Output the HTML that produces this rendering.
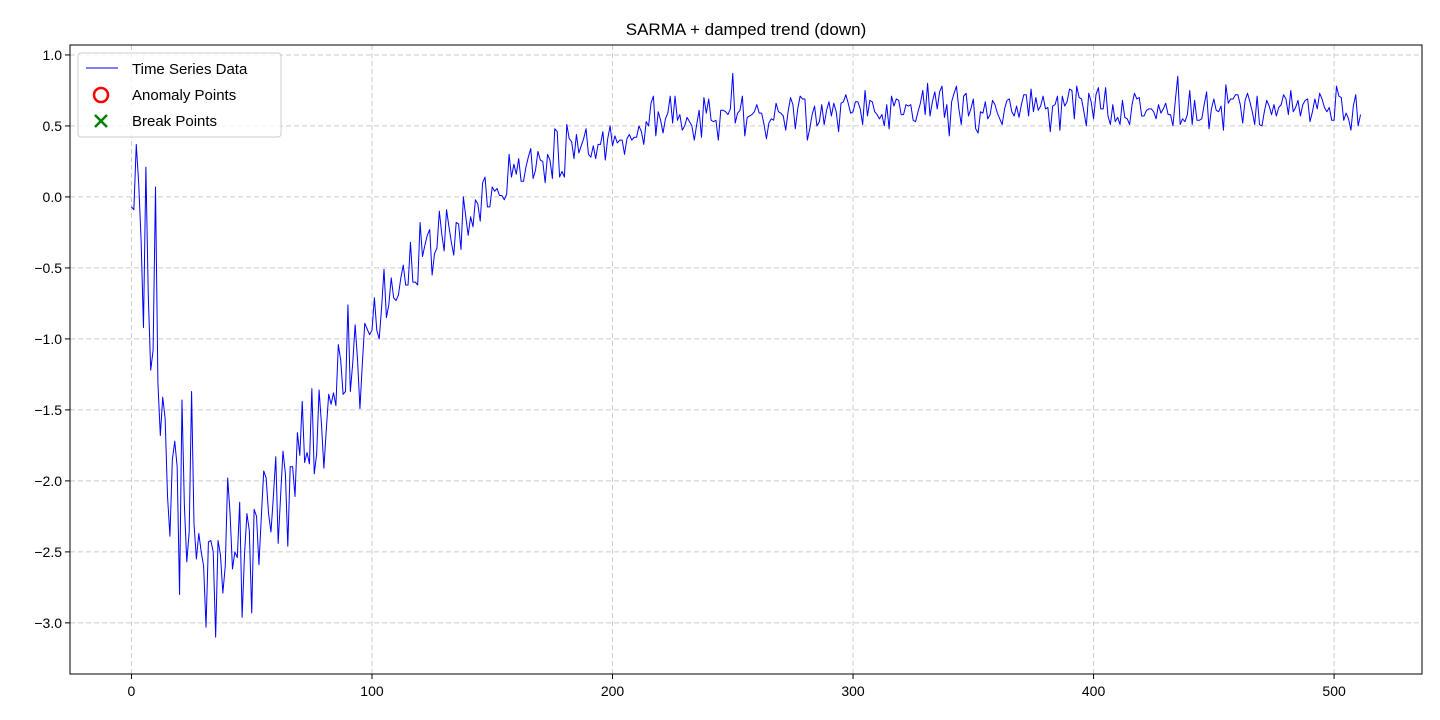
<!DOCTYPE html>
<html><head><meta charset="utf-8"><style>
html,body{margin:0;padding:0;background:#fff;}
svg{display:block;font-family:"Liberation Sans","DejaVu Sans",sans-serif;}
</style></head><body>
<svg id="chart" width="1440" height="720">
<rect x="0" y="0" width="1440" height="720" fill="#fff"/>
<text x="746" y="35" text-anchor="middle" font-size="17">SARMA + damped trend (down)</text>
<g id="grid"></g>
<g id="axes"></g>
<path id="series" fill="none" stroke="#0000ff" stroke-width="1" stroke-linejoin="round"/>
<rect x="70" y="45" width="1352" height="629" fill="none" stroke="#000" stroke-width="1"/>
<g>
<rect x="78" y="53" width="203" height="84" rx="3" fill="#fff" fill-opacity="0.8" stroke="#ccc"/>
<line x1="86" y1="68" x2="118" y2="68" stroke="#0000ff" stroke-width="1"/>
<text x="132" y="74" font-size="15">Time Series Data</text>
<circle cx="101" cy="95" r="7" fill="none" stroke="#ff0000" stroke-width="2.5"/>
<text x="132" y="100" font-size="15">Anomaly Points</text>
<path d="M95 115 L107 127 M107 115 L95 127" stroke="#008000" stroke-width="2.5"/>
<text x="132" y="126" font-size="15">Break Points</text>
</g>
</svg>
<script>
const values = [-0.07,-0.09,0.37,0.1,-0.3,-0.92,0.21,-0.7,-1.22,-1.08,0.07,-1.31,-1.68,-1.41,-1.56,-2.11,-2.39,-1.85,-1.72,-1.9,
-2.8,-1.43,-2.17,-2.57,-2.36,-1.37,-2.3,-2.55,-2.37,-2.5,-2.6,-3.03,-2.43,-2.42,-2.5,-3.1,-2.42,-2.52,-2.79,-2.6,
-1.98,-2.23,-2.62,-2.5,-2.54,-2.15,-2.96,-2.52,-2.23,-2.35,-2.93,-2.2,-2.25,-2.59,-2.25,-1.93,-1.98,-2.23,-2.36,-2.11,
-1.83,-2.44,-2.11,-1.79,-1.95,-2.46,-1.9,-1.9,-2.11,-1.66,-1.82,-1.44,-1.87,-1.8,-1.88,-1.35,-1.95,-1.81,-1.36,-1.6,
-1.91,-1.64,-1.39,-1.46,-1.38,-1.47,-1.04,-1.15,-1.39,-1.37,-0.76,-1.37,-1.17,-0.9,-1.15,-1.49,-1.17,-0.89,-0.93,-0.97,
-0.94,-0.71,-0.94,-1.0,-0.78,-0.51,-0.85,-0.76,-0.57,-0.71,-0.73,-0.69,-0.57,-0.48,-0.62,-0.62,-0.32,-0.6,-0.6,-0.62,
-0.18,-0.42,-0.34,-0.27,-0.23,-0.55,-0.4,-0.36,-0.1,-0.26,-0.38,-0.09,-0.21,-0.32,-0.41,-0.18,-0.19,-0.37,0.0,-0.14,
-0.27,-0.14,-0.21,-0.02,-0.05,-0.17,0.1,0.14,-0.07,-0.07,0.07,0.04,0.06,0.01,0.01,-0.02,0.02,0.3,0.14,0.23,
0.16,0.27,0.11,0.11,0.21,0.28,0.34,0.13,0.19,0.32,0.26,0.25,0.1,0.3,0.26,0.13,0.48,0.46,0.14,0.18,
0.14,0.51,0.41,0.39,0.27,0.44,0.31,0.36,0.41,0.48,0.3,0.28,0.36,0.27,0.37,0.37,0.46,0.26,0.41,0.5,
0.36,0.43,0.38,0.4,0.4,0.3,0.41,0.44,0.4,0.42,0.42,0.5,0.46,0.37,0.53,0.5,0.66,0.71,0.43,0.6,
0.54,0.45,0.55,0.59,0.71,0.52,0.71,0.54,0.58,0.47,0.5,0.56,0.53,0.5,0.4,0.51,0.61,0.42,0.7,0.59,
0.69,0.54,0.53,0.54,0.4,0.61,0.61,0.6,0.58,0.62,0.87,0.52,0.59,0.61,0.71,0.43,0.56,0.57,0.58,0.6,
0.65,0.59,0.59,0.51,0.41,0.52,0.55,0.54,0.66,0.6,0.59,0.57,0.47,0.6,0.7,0.65,0.48,0.62,0.71,0.69,
0.69,0.4,0.48,0.58,0.64,0.5,0.53,0.65,0.51,0.61,0.67,0.57,0.66,0.6,0.46,0.66,0.67,0.72,0.66,0.59,
0.6,0.67,0.67,0.62,0.51,0.75,0.57,0.68,0.67,0.6,0.58,0.55,0.58,0.5,0.65,0.48,0.71,0.64,0.69,0.68,
0.58,0.58,0.65,0.64,0.65,0.54,0.53,0.6,0.66,0.75,0.58,0.8,0.57,0.67,0.74,0.62,0.74,0.78,0.56,0.65,
0.43,0.67,0.73,0.78,0.62,0.51,0.71,0.73,0.57,0.62,0.69,0.48,0.45,0.6,0.59,0.67,0.55,0.58,0.68,0.65,
0.59,0.55,0.51,0.62,0.68,0.69,0.6,0.57,0.64,0.56,0.65,0.72,0.72,0.57,0.76,0.6,0.7,0.61,0.64,0.71,
0.62,0.63,0.46,0.64,0.65,0.71,0.47,0.71,0.64,0.67,0.76,0.75,0.55,0.78,0.7,0.69,0.6,0.5,0.73,0.67,
0.55,0.72,0.77,0.62,0.62,0.77,0.57,0.51,0.65,0.53,0.56,0.51,0.68,0.56,0.55,0.51,0.65,0.73,0.69,0.7,
0.57,0.57,0.61,0.62,0.62,0.6,0.55,0.65,0.59,0.62,0.66,0.58,0.58,0.5,0.68,0.85,0.51,0.55,0.53,0.58,
0.75,0.51,0.68,0.54,0.54,0.55,0.65,0.74,0.48,0.62,0.69,0.61,0.6,0.64,0.47,0.79,0.66,0.69,0.69,0.72,
0.72,0.65,0.52,0.68,0.73,0.67,0.6,0.51,0.71,0.51,0.5,0.6,0.68,0.64,0.58,0.65,0.57,0.63,0.65,0.72,
0.69,0.58,0.75,0.6,0.63,0.68,0.57,0.65,0.68,0.69,0.53,0.6,0.69,0.62,0.73,0.69,0.63,0.6,0.63,0.54,
0.54,0.78,0.71,0.7,0.54,0.59,0.55,0.47,0.64,0.72,0.5,0.58];
const yTicks = [1.0,0.5,0.0,-0.5,-1.0,-1.5,-2.0,-2.5,-3.0];
const xTicks = [0,100,200,300,400,500];

const L=70,R=1422,T=45,B=674;
const xMin=-25.55,xMax=536.55,yMin=-3.36,yMax=1.07;
function xs(v){return L+(v-xMin)/(xMax-xMin)*(R-L);}
function ys(v){return B-(v-yMin)/(yMax-yMin)*(B-T);}
const NS='http://www.w3.org/2000/svg';
const grid=document.getElementById('grid'), axes=document.getElementById('axes');
function mk(tag,attrs,parent){const e=document.createElementNS(NS,tag);for(const k in attrs)e.setAttribute(k,attrs[k]);parent.appendChild(e);return e;}
function fmt(v){const s=Math.abs(v).toFixed(1);return v<0?'\u2212'+s:s;}
yTicks.forEach(v=>{
  const y=ys(v);
  const g=mk('line',{x1:L,x2:R,y1:y,y2:y,stroke:'#ccc','stroke-dasharray':'5,3','stroke-width':1},grid);
  
  
  const t=mk('line',{x1:L-5,x2:L,y1:y,y2:y,stroke:'#000'},axes);
  
  
  const l=mk('text',{x:L-8,y:y+5,'text-anchor':'end','font-size':14},axes);
  l.textContent=fmt(v);
  
  
});
xTicks.forEach(v=>{
  const x=xs(v);
  const g=mk('line',{x1:x,x2:x,y1:T,y2:B,stroke:'#ccc','stroke-dasharray':'5,3','stroke-width':1},grid);
  
  
  const t=mk('line',{x1:x,x2:x,y1:B,y2:B+5,stroke:'#000'},axes);
  
  
  const l=mk('text',{x:x,y:B+22,'text-anchor':'middle','font-size':14},axes);
  l.textContent=String(v);
  
  
});
document.getElementById('series').setAttribute('d',values.map((v,i)=>(i?'L':'M')+xs(i).toFixed(2)+' '+ys(v).toFixed(2)).join(' '));
</script>
</body></html>
